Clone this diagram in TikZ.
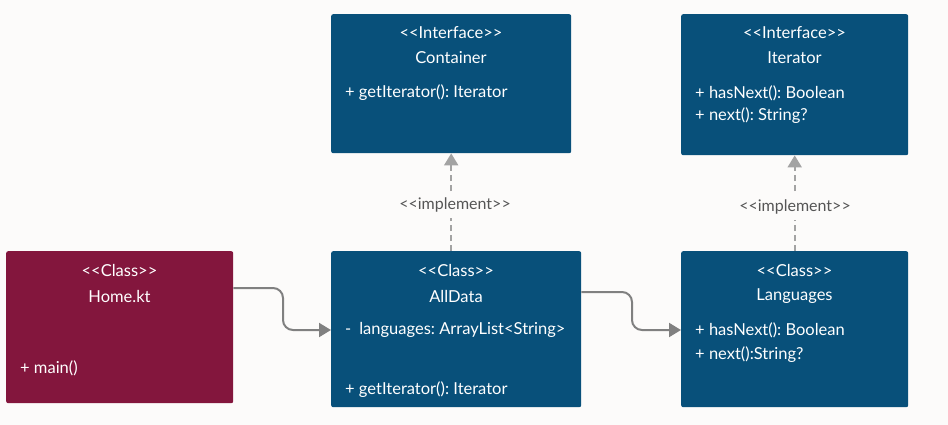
\documentclass[tikz,border=0pt]{standalone}
\usepackage{fontspec}
\setmainfont{Lato}
\usetikzlibrary{arrows.meta}
\frenchspacing

\definecolor{bgcol}{HTML}{FCFBFA}
\definecolor{blueBox}{HTML}{08507A}
\definecolor{redBox}{HTML}{83163D}
\definecolor{lineGray}{HTML}{808080}
\definecolor{dashGray}{HTML}{A3A3A3}
\definecolor{labelGray}{HTML}{555555}

% stereotype text with plain angle brackets
\newcommand{\stereotxt}[1]{<\kern0pt<#1>\kern0pt>}

\tikzset{
  umlbox/.style={rectangle, rounded corners=2pt, anchor=north west, inner sep=0pt},
  head/.style={text=white, font=\fontsize{16.5}{19}\selectfont, inner sep=0pt},
  member/.style={text=white, font=\fontsize{16.5}{19}\selectfont, inner sep=0pt, anchor=west},
  assoc/.style={draw=lineGray, line width=2pt, rounded corners=10pt, -{Triangle[width=14pt,length=12pt]}},
  realize/.style={draw=dashGray, line width=2pt, dash pattern=on 6pt off 4pt, -{Triangle[width=14pt,length=12pt]}},
  stereo/.style={text=labelGray, font=\fontsize{16}{18}\selectfont, fill=bgcol, inner xsep=1pt, inner ysep=6pt}
}

\begin{document}
\begin{tikzpicture}[x=1pt, y=-1pt]
    % Background
    \fill[bgcol] (0,0) rectangle (948,425);
    \useasboundingbox (0,0) rectangle (948,425);

% the boxes
\node at (6,251) [umlbox, fill=redBox, minimum width=227pt, minimum height=152pt] (home) {};
\node at (331,251) [umlbox, fill=blueBox, minimum width=250pt, minimum height=156pt] (alldata) {};
\node at (681,251) [umlbox, fill=blueBox, minimum width=227pt, minimum height=156pt] (languages) {};
\node at (331,14) [umlbox, fill=blueBox, minimum width=240pt, minimum height=139pt] (container) {};
\node at (681,14) [umlbox, fill=blueBox, minimum width=227pt, minimum height=141pt] (iterator) {};

% Home.kt
\node at (119.5,270) [head] (homeS) {\stereotxt{Class}};
\node at (119.5,296) [head] (homeN) {Home.kt};
\node at (20,368) [member] (homeM) {+ main()};

% AllData
\node at (456,270) [head] (alldataS) {\stereotxt{Class}};
\node at (456,296) [head] (alldataN) {AllData};
\node at (345,330) [member] (alldataA) {-\hspace{8pt}languages: ArrayList<String>};
\node at (345,390) [member] (alldataM) {+ getIterator(): Iterator};

% Languages
\node at (794.5,270) [head] (languagesS) {\stereotxt{Class}};
\node at (794.5,296) [head] (languagesN) {Languages};
\node at (695,330) [member] (languagesA) {+ hasNext(): Boolean};
\node at (695,355) [member] (languagesB) {+ next():String?};

% Container
\node at (451,33) [head] (containerS) {\stereotxt{Interface}};
\node at (451,58) [head] (containerN) {Container};
\node at (345,93) [member] (containerM) {+ getIterator(): Iterator};

% Iterator
\node at (794.5,33) [head] (iteratorS) {\stereotxt{Interface}};
\node at (794.5,58) [head] (iteratorN) {Iterator};
\node at (695,93) [member] (iteratorA) {+ hasNext(): Boolean};
\node at (695,116) [member] (iteratorB) {+ next(): String?};

% connectors
\draw[assoc] (home.east |- 0,288) -- (283,288) -- (283,330) -- (alldata.west |- 0,330);
\draw[assoc] (alldata.east |- 0,292) -- (632,292) -- (632,330) -- (languages.west |- 0,330);

\draw[realize] (container.south |- alldata.north) -- (container.south);
\node at (455,205) [stereo] (implA) {\stereotxt{implement}};
\draw[realize] (languages.north) -- (iterator.south);
\node at (795,207) [stereo] (implB) {\stereotxt{implement}};

\end{tikzpicture}
\end{document}
